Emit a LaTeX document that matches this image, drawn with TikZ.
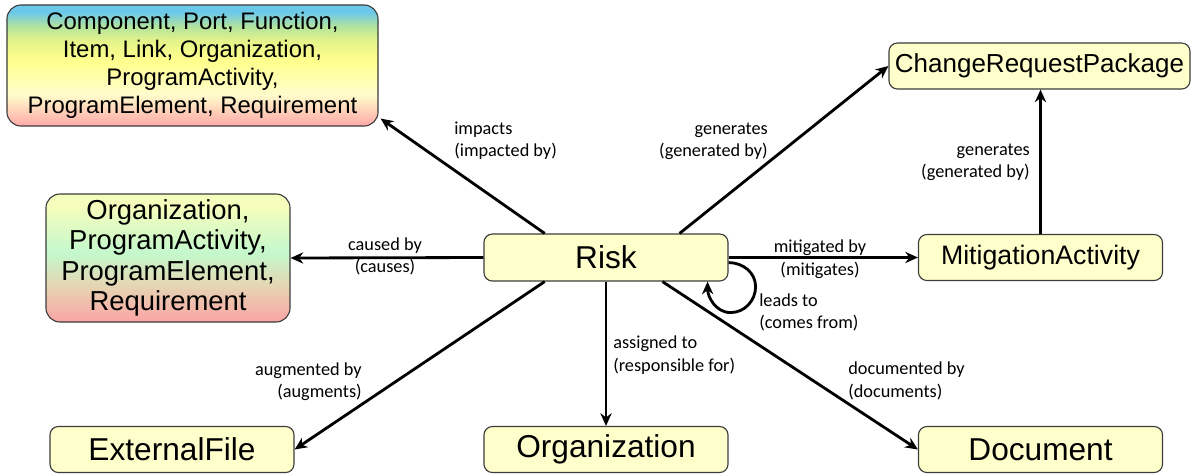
\documentclass[tikz,border=0pt]{standalone}
\usepackage{fontspec}
\setmainfont{Liberation Sans}
\newfontfamily\lblfont{Carlito}
\usetikzlibrary{arrows.meta,calc}

\definecolor{boxfill}{HTML}{FFFFCC}
\definecolor{boxline}{HTML}{3C3C3C}
\definecolor{impTop}{HTML}{6CC8E8}
\definecolor{impGreen}{HTML}{B4E49C}
\definecolor{impLime}{HTML}{E6F48A}
\definecolor{impYellow}{HTML}{FFFF8C}
\definecolor{impPale}{HTML}{FFFDCC}
\definecolor{impPink}{HTML}{FFA8A8}
\definecolor{cauTop}{HTML}{F4FDBC}
\definecolor{cauGreen}{HTML}{C4F8CC}
\definecolor{cauTan}{HTML}{E4D8B4}
\definecolor{cauPink}{HTML}{FCA4A4}
\pgfdeclareverticalshading{impactsfill}{100bp}{color(0bp)=(impPink); color(25bp)=(impPink); color(38bp)=(impPale); color(52bp)=(impYellow); color(60bp)=(impLime); color(66bp)=(impGreen); color(72bp)=(impTop); color(100bp)=(impTop)}
\pgfdeclareverticalshading{causesfill}{100bp}{color(0bp)=(cauPink); color(25bp)=(cauPink); color(40bp)=(cauTan); color(52bp)=(cauGreen); color(70bp)=(cauTop); color(100bp)=(cauTop)}

\begin{document}
\begin{tikzpicture}[x=0.025cm, y=-0.025cm, line join=round, >={Stealth[length=9pt,width=8pt]},
    cls/.style={draw=boxline, fill=boxfill, rounded corners=6pt, line width=0.8pt,
      minimum width=6.1cm, minimum height=1.15cm, inner sep=0pt,
      font=\fontsize{22.5}{26}\selectfont},
    grp/.style={draw=boxline, rounded corners=10pt, line width=0.8pt, inner sep=0pt,
      align=center},
    relarrow/.style={line width=2pt, ->},
    lbl/.style={font=\lblfont\fontsize{13}{16}\selectfont, inner sep=0pt}]
  \useasboundingbox (0,0) rectangle (1196,475);

  % classes
  \node[cls, minimum height=1.175cm] (risk) at (606,257.5) {Risk};
  \node[cls, minimum width=7.525cm, font=\fontsize{18.5}{22}\selectfont] (crp) at (1039.5,66) {ChangeRequestPackage};
  \node[cls, font=\fontsize{19}{22}\selectfont] (mitig) at (1040.5,257.5) {MitigationActivity};
  \node[cls] (extfile) at (172,449.5) {ExternalFile};
  \node[cls] (org) at (606,449.5) {Organization};
  \node[cls] (doc) at (1040.5,449.5) {Document};

  % groups of classes
  \node[grp, shade, shading=impactsfill, minimum width=9.275cm, minimum height=3.025cm,
    font=\fontsize{17}{20}\selectfont] (impacted) at (192.5,65.5)
    {Component, Port, Function,\\Item, Link, Organization,\\ProgramActivity,\\ProgramElement, Requirement};
  \node[grp, shade, shading=causesfill, minimum width=6.1cm, minimum height=3.2cm,
    font=\fontsize{19.5}{21.5}\selectfont] (causes) at (168,258)
    {Organization,\\ProgramActivity,\\ProgramElement,\\Requirement};

  % relations
  \draw[relarrow] ($(risk.north west)!0.25!(risk.north east)$) -- ($(impacted.south east)+(2,-8)$);
  \draw[relarrow] (risk.west) -- (causes.east);
  \draw[relarrow] ($(risk.north west)!0.8!(risk.north east)$) -- (crp.west);
  \draw[relarrow] (risk.east) -- (mitig.west);
  \draw[relarrow] (mitig.north) -- (mitig.north |- crp.south);
  \draw[relarrow] (risk.south) -- (org.north);
  \draw[relarrow] ($(risk.south west)!0.73!(risk.south east)$) -- (doc.west);
  \draw[relarrow] ($(risk.south west)!0.25!(risk.south east)$) -- (extfile.east);
  \draw[relarrow] ($(risk.south east)+(0,-19)$) to[out=0,in=90] ($(risk.south east)+(27,5)$)
    to[out=-90,in=0] ($(risk.south east)+(2,31)$) to[out=180,in=-90] ($(risk.south east)+(-21,0)$);

  % labels
  \node[lbl, anchor=west, align=left] (lImpacts) at (454,140.5) {impacts\\(impacted by)};
  \node[lbl, anchor=east, align=right] (lGenCrp) at (768,141.5) {generates\\(generated by)};
  \node[lbl, align=center] (lCaused) at (385,256.5) {caused by\\(causes)};
  \node[lbl, align=center] (lMitig) at (820,259) {mitigated by\\(mitigates)};
  \node[lbl, anchor=east, align=right] (lGenMit) at (1030,162.5) {generates\\(generated by)};
  \node[lbl, anchor=west, align=left] (lLeads) at (759,312.5) {leads to\\(comes from)};
  \node[lbl, anchor=west, align=left] (lAssign) at (613,355) {assigned to\\(responsible for)};
  \node[lbl, anchor=west, align=left] (lDoc) at (848,381) {documented by\\(documents)};
  \node[lbl, anchor=east, align=right] (lAug) at (362,381.5) {augmented by\\(augments)};
\end{tikzpicture}
\end{document}
